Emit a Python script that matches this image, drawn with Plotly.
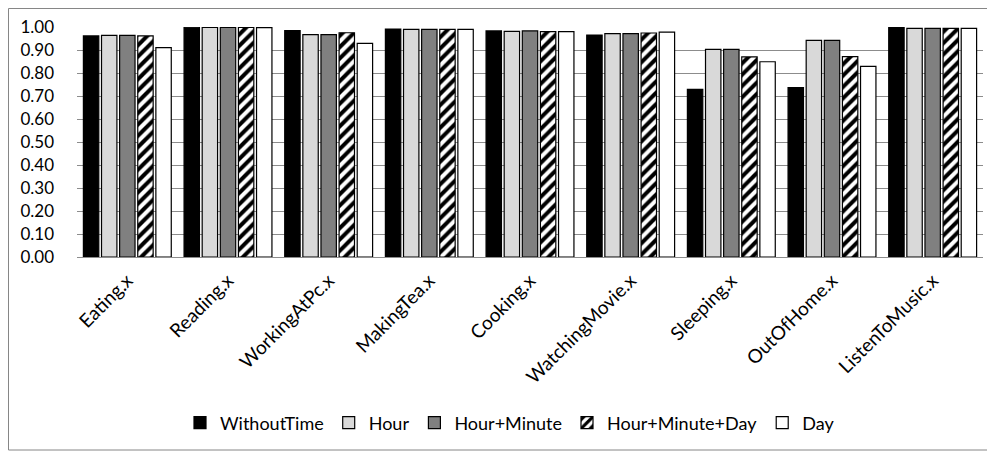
import plotly.graph_objects as go

categories = ["Eating.x", "Reading.x", "WorkingAtPc.x", "MakingTea.x", "Cooking.x",
              "WatchingMovie.x", "Sleeping.x", "OutOfHome.x", "ListenToMusic.x"]
without_time = [0.961, 0.999, 0.984, 0.991, 0.983, 0.965, 0.729, 0.736, 0.998]
hour = [0.964, 0.998, 0.967, 0.990, 0.981, 0.971, 0.903, 0.942, 0.994]
hour_minute = [0.964, 0.998, 0.967, 0.990, 0.983, 0.971, 0.903, 0.942, 0.994]
hour_minute_day = [0.961, 0.998, 0.975, 0.990, 0.980, 0.974, 0.870, 0.871, 0.994]
day = [0.910, 0.997, 0.929, 0.990, 0.980, 0.978, 0.849, 0.829, 0.994]
y_ticks = [0.0, 0.1, 0.2, 0.3, 0.4, 0.5, 0.6, 0.7, 0.8, 0.9, 1.0]

FONT = "Lato"
series = [
    ("WithoutTime", without_time, dict(color="#000000")),
    ("Hour", hour, dict(color="#d9d9d9")),
    ("Hour+Minute", hour_minute, dict(color="#808080")),
    ("Hour+Minute+Day", hour_minute_day,
     dict(color="#ffffff", pattern=dict(shape="/", fgcolor="#000000", bgcolor="#ffffff",
                                        fillmode="replace", size=8, solidity=0.5))),
    ("Day", day, dict(color="#ffffff")),
]

fig = go.Figure()
for name, vals, mk in series:
    mk = dict(mk)
    mk["line"] = dict(color="#000000", width=1.2)
    fig.add_trace(go.Bar(name=name, x=categories, y=vals, marker=mk))

# page has an 8px body margin; size and place the figure to compensate
OFF = 8
W, H = 995 - OFF, 455 - OFF
L, T = 77 - OFF, 27 - OFF
R = W - (983 - OFF)
B = H - (257 - OFF)
pw, ph = W - L - R, H - T - B

def px(x):
    return (x - OFF - L) / pw

def py(y):
    return (H - B - (y - OFF)) / ph

fig.update_layout(
    width=W, height=H,
    margin=dict(l=L, r=R, t=T, b=B, autoexpand=False),
    barmode="group", bargap=0.1, bargroupgap=0.15,
    plot_bgcolor="#ffffff", paper_bgcolor="#ffffff",
    font=dict(family=FONT, color="#000000", size=17),
    showlegend=True,
    legend=dict(orientation="h", x=px(510), xanchor="center", y=py(423), yanchor="middle",
                font=dict(family=FONT, size=18), itemwidth=30, traceorder="normal"),
    shapes=[dict(type="rect", xref="paper", yref="paper",
                 x0=px(8.5), x1=px(988), y0=py(450), y1=py(8.5),
                 line=dict(color="#868686", width=1), fillcolor="rgba(0,0,0,0)", layer="below")],
)
fig.update_yaxes(range=[0, 1.0], tickvals=y_ticks, tickformat=".2f", automargin=False,
                 showgrid=True, gridcolor="#8c8c8c", gridwidth=1,
                 zeroline=False, showline=False, ticks="", ticklabelstandoff=22,
                 tickfont=dict(family=FONT, size=17))
fig.update_xaxes(showline=True, linecolor="#8c8c8c", linewidth=1, ticks="", automargin=False,
                 tickangle=-45, ticklabelstandoff=4, tickfont=dict(family=FONT, size=19))

fig.write_html("out.html")
